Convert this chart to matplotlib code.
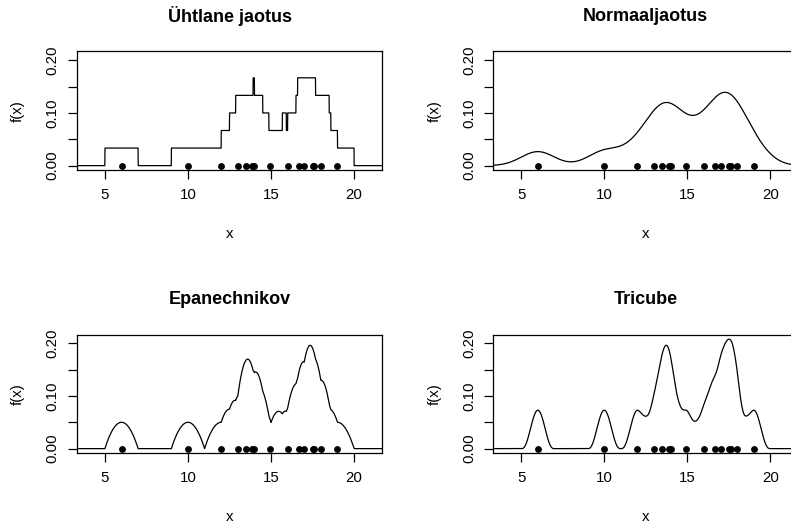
import numpy as np
import matplotlib
matplotlib.use("Agg")
import matplotlib.pyplot as plt

plt.rcParams['font.family'] = ['Liberation Sans', 'DejaVu Sans']

# observations (shown as dots on the x axis)
obs = [6.0, 10.0, 12.0, 13.0, 13.5, 13.87, 14.0, 14.92, 16.0, 16.68,
       17.0, 17.5, 17.6, 18.0, 19.0]
titles = ["Ühtlane jaotus", "Normaaljaotus", "Epanechnikov", "Tricube"]
kernels = ["uniform", "normal", "epanechnikov", "tricube"]
bandwidths = [1.0, 1.0, 1.0, 1.0]
x_ticks = [5, 10, 15, 20]
y_ticks = [0.0, 0.05, 0.10, 0.15, 0.20]
y_tick_labels = ["0.00", "", "0.10", "", "0.20"]
x_label = "x"
y_label = "f(x)"


def kernel(name, u):
    if name == "uniform":
        return np.where((u >= -1) & (u < 1), 0.5, 0.0)
    if name == "normal":
        return np.exp(-0.5 * u ** 2) / np.sqrt(2 * np.pi)
    if name == "epanechnikov":
        return np.where(np.abs(u) <= 1, 0.75 * (1 - u ** 2), 0.0)
    if name == "tricube":
        return np.where(np.abs(u) <= 1, 35 / 32 * (1 - u ** 2) ** 3, 0.0)


def kde(name, h, grid, data):
    data = np.asarray(data)
    u = np.round((grid[:, None] - data[None, :]) / h, 9)
    return kernel(name, u).sum(axis=1) / (len(data) * h)


W, H = 791, 527
fig = plt.figure(figsize=(W / 100, H / 100), dpi=100)

ax_w = 305 / W
ax_h = 118.5 / H
lefts = [77 / W, 493.3 / W]
bottoms = [1 - 170 / H, 1 - 453 / H]

grid = np.round(2 + 0.005 * np.arange(4201), 6)
for i, (name, h, title) in enumerate(zip(kernels, bandwidths, titles)):
    r, c = divmod(i, 2)
    ax = fig.add_axes([lefts[c], bottoms[r], ax_w, ax_h])
    dens = kde(name, h, grid, obs)
    ax.plot(grid, dens, color="black", lw=0.9)
    ax.plot(obs, np.zeros(len(obs)), "o", color="black", ms=3.9, mec="black")
    ax.set_xlim(3.32, 21.68)
    ax.set_ylim(-0.0083, 0.2166)
    ax.set_xticks(x_ticks)
    ax.set_xticklabels([str(t) for t in x_ticks])
    ax.set_yticks(y_ticks)
    ax.set_yticklabels(y_tick_labels, rotation=90, va="center")
    ax.tick_params(direction="out", length=6.5, width=0.9, labelsize=10.8,
                   color="black", pad=6)
    ax.tick_params(axis="x", pad=6.5)
    for s in ax.spines.values():
        s.set_linewidth(0.9)
        s.set_color("black")
    ax.set_xlabel(x_label, fontsize=10.8, va="center")
    ax.xaxis.set_label_coords(0.5, -63.7 / 118.5)
    ax.set_ylabel(y_label, fontsize=10.8, va="center")
    ax.yaxis.set_label_coords(-59 / 305, 0.5)
    ax.text(0.5, 1 + 35.3 / 118.5, title, transform=ax.transAxes,
            fontsize=13, fontweight="bold", ha="center", va="center")

fig.savefig("out.png", dpi=100)
